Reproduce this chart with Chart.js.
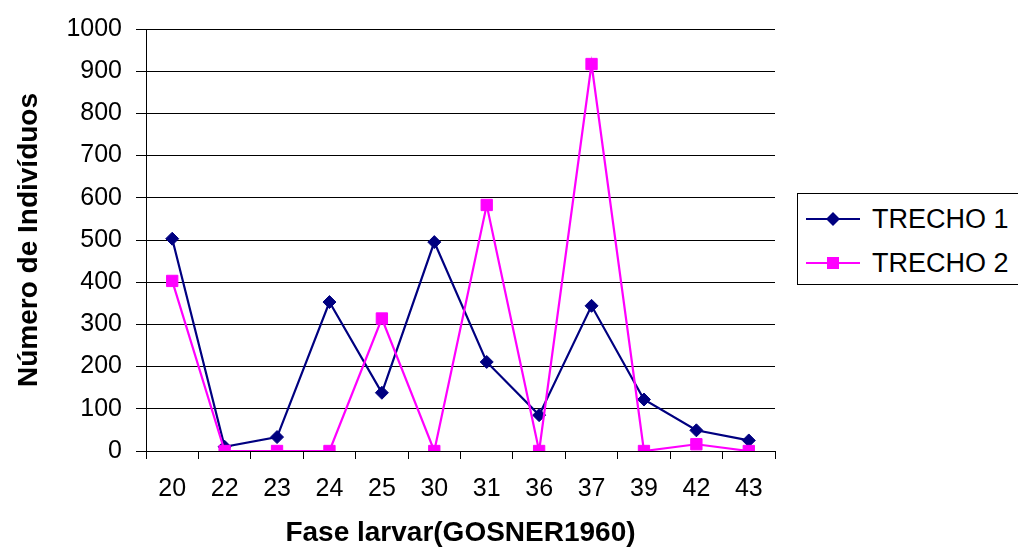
<!DOCTYPE html>
<html>
<head>
<meta charset="utf-8">
<script src="https://cdn.jsdelivr.net/npm/chart.js@4/dist/chart.umd.min.js"></script>
<style>
  body { margin: 0; background: #fff; font-family: "Liberation Sans", Arial, sans-serif; }
  #wrap { position: relative; width: 1018px; height: 552px; }
  #legend {
    position: absolute; left: 797px; top: 193px; width: 240px; height: 92px;
    border: 1px solid #000; box-sizing: border-box; background: #fff;
  }
  .item { position: absolute; left: 8px; height: 30px; display: flex; align-items: center; font-size: 27px; color: #000; }
  .item svg { margin-right: 12px; }
</style>
</head>
<body>
<div id="wrap">
  <canvas id="chart" width="1018" height="552"></canvas>
  <div id="legend"></div>
</div>
<script>
// Fase larvar (Gosner 1960) stages
const stages = ['20', '22', '23', '24', '25', '30', '31', '36', '37', '39', '42', '43'];
const trecho1 = [503, 10, 33, 353, 138, 495, 211, 85, 344, 122, 49, 25];
const trecho2 = [403, 0, 0, 0, 314, 0, 583, 0, 917, 0, 16, 0];
const seriesNames = ['TRECHO 1', 'TRECHO 2'];
const seriesColors = ['#000080', '#FF00FF'];

const tickFont = { family: 'Liberation Sans', size: 25 };
const titleFont = { family: 'Liberation Sans', size: 28, weight: 'bold' };

new Chart(document.getElementById('chart'), {
  type: 'line',
  data: {
    labels: stages,
    datasets: [
      {
        label: seriesNames[0],
        data: trecho1,
        borderColor: seriesColors[0],
        backgroundColor: seriesColors[0],
        borderWidth: 2.2,
        pointStyle: 'rectRot',
        pointRadius: 6.5,
        pointBorderWidth: 1,
        tension: 0,
        order: 1
      },
      {
        label: seriesNames[1],
        data: trecho2,
        borderColor: seriesColors[1],
        backgroundColor: seriesColors[1],
        borderWidth: 2.2,
        pointStyle: 'rect',
        pointRadius: 8,
        pointBorderWidth: 1,
        tension: 0,
        order: 0
      }
    ]
  },
  options: {
    responsive: false,
    animation: false,
    layout: { padding: { top: 27, right: 243, left: 0, bottom: 0 } },
    plugins: {
      legend: { display: false },
      tooltip: { enabled: false }
    },
    scales: {
      x: {
        offset: true,
        ticks: { color: '#000', font: tickFont, padding: 15, maxRotation: 0 },
        grid: { offset: true, drawOnChartArea: false, color: '#000', tickLength: 8 },
        border: { color: '#000', width: 1 },
        title: { display: true, text: 'Fase larvar(GOSNER1960)', color: '#000', font: titleFont, padding: { top: 10, bottom: 2 } },
        afterFit: (s) => { s.height = 101; }
      },
      y: {
        min: 0,
        max: 1000,
        ticks: { stepSize: 100, color: '#000', font: tickFont, padding: 14, callback: (v) => String(v) },
        grid: { color: '#000', tickLength: 10 },
        border: { color: '#000', width: 1 },
        title: { display: true, text: 'Número de Indivíduos', color: '#000', font: titleFont, padding: { top: 12, bottom: 8 } },
        afterFit: (s) => { s.width = 146; }
      }
    }
  }
});

// legend like the original: short line with marker, then label
const legend = document.getElementById('legend');
seriesNames.forEach((name, i) => {
  const marker = i === 0
    ? '<polygon points="27,4 34,11 27,18 20,11" fill="' + seriesColors[i] + '"/>'
    : '<rect x="21" y="5" width="12" height="12" fill="' + seriesColors[i] + '"/>';
  const row = document.createElement('div');
  row.className = 'item';
  row.style.top = (i === 0 ? 10 : 54) + 'px';
  row.innerHTML = '<svg width="54" height="22"><line x1="0" y1="11" x2="54" y2="11" stroke="' +
    seriesColors[i] + '" stroke-width="2"/>' + marker + '</svg>' + name;
  legend.appendChild(row);
});
</script>
</body>
</html>
